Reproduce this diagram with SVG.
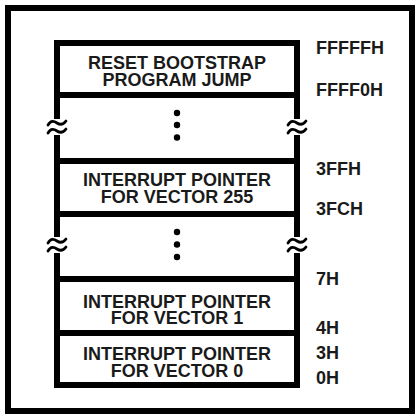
<svg xmlns="http://www.w3.org/2000/svg" width="420" height="419" viewBox="0 0 420 419">
<style>
.ln{stroke:#000;stroke-width:6;fill:none}
.t{font-family:"Liberation Sans",Arial,sans-serif;font-weight:bold;font-size:18px;fill:#1a1a1a}
.c{text-anchor:middle}
.w{stroke:#000;stroke-width:2.8;fill:none;stroke-linecap:round}
</style>
<defs>
<g id="brk">
<rect x="-11" y="-8" width="22" height="16" fill="#fff"/>
<path class="w" d="M-9,-2 C-6,-7 -3,-6 0,-4 S6,-2 9,-6"/>
<path class="w" d="M-9,6 C-6,1 -3,2 0,4 S6,6 9,2"/>
</g>
</defs>
<rect x="0" y="0" width="420" height="419" fill="#fff"/>
<rect class="ln" x="8" y="8" width="404" height="403"/>
<g id="connectors">
<line class="ln" x1="57" y1="40" x2="57" y2="388"/>
<line class="ln" x1="297" y1="40" x2="297" y2="388"/>
</g>
<g id="reset">
<line class="ln" x1="54" y1="43" x2="300" y2="43"/>
<line class="ln" x1="54" y1="95" x2="300" y2="95"/>
<text class="t c" x="177" y="69">RESET BOOTSTRAP<tspan x="177" dy="16.5">PROGRAM JUMP</tspan></text>
</g>
<g id="gap1">
<circle cx="177" cy="113" r="3.2"/>
<circle cx="177" cy="125" r="3.2"/>
<circle cx="177" cy="137.5" r="3.2"/>
<use href="#brk" x="57" y="127"/>
<use href="#brk" x="297" y="127"/>
</g>
<g id="vec255">
<line class="ln" x1="54" y1="161" x2="300" y2="161"/>
<line class="ln" x1="54" y1="214" x2="300" y2="214"/>
<text class="t c" x="177" y="186">INTERRUPT POINTER<tspan x="177" dy="16.5">FOR VECTOR 255</tspan></text>
</g>
<g id="gap2">
<circle cx="177" cy="232" r="3.2"/>
<circle cx="177" cy="244.5" r="3.2"/>
<circle cx="177" cy="257" r="3.2"/>
<use href="#brk" x="57" y="245"/>
<use href="#brk" x="297" y="245"/>
</g>
<g id="vec1">
<line class="ln" x1="54" y1="279" x2="300" y2="279"/>
<line class="ln" x1="54" y1="333" x2="300" y2="333"/>
<text class="t c" x="177" y="308">INTERRUPT POINTER<tspan x="177" dy="16">FOR VECTOR 1</tspan></text>
</g>
<g id="vec0">
<line class="ln" x1="54" y1="385" x2="300" y2="385"/>
<text class="t c" x="177" y="360">INTERRUPT POINTER<tspan x="177" dy="16.5">FOR VECTOR 0</tspan></text>
</g>
<g id="addresses">
<text class="t" x="316" y="54">FFFFFH</text>
<text class="t" x="316" y="96">FFFF0H</text>
<text class="t" x="316" y="175">3FFH</text>
<text class="t" x="316" y="215">3FCH</text>
<text class="t" x="316" y="285">7H</text>
<text class="t" x="316" y="334">4H</text>
<text class="t" x="316" y="359">3H</text>
<text class="t" x="316" y="384">0H</text>
</g>
</svg>
